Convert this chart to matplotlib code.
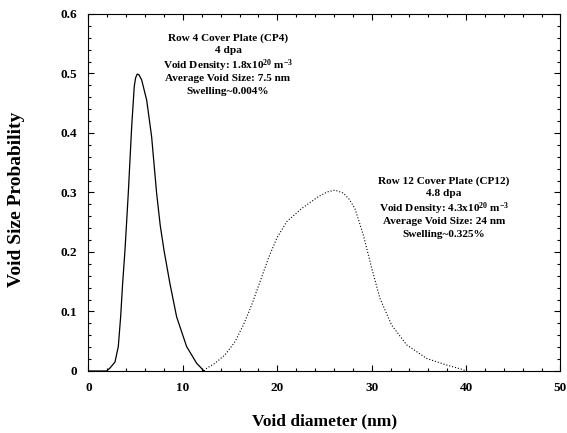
import matplotlib
matplotlib.use("Agg")
import matplotlib.pyplot as plt
from matplotlib.ticker import MultipleLocator

plt.rcParams['font.family'] = ['Liberation Serif', 'DejaVu Serif']
plt.rcParams['font.weight'] = 'bold'
plt.rcParams['mathtext.fontset'] = 'custom'
plt.rcParams['mathtext.rm'] = 'Liberation Serif:bold'
plt.rcParams['mathtext.it'] = 'Liberation Serif:bold'
plt.rcParams['mathtext.bf'] = 'Liberation Serif:bold'

# --- data ---
# Row 4 cover plate (CP4), solid curve
cp4_x = [0, 1.93, 2.28, 2.81, 3.16, 3.41, 3.62, 3.87, 4.22, 4.58, 4.85, 5.0, 5.17, 5.35,
         5.64, 6.17, 6.69, 7.22, 7.6, 8.0, 8.63, 9.34, 10.4, 11.46, 12.0, 12.24]
cp4_y = [0, 0, 0.005, 0.015, 0.041, 0.091, 0.147, 0.203, 0.299, 0.411, 0.478, 0.493, 0.499, 0.498,
         0.489, 0.455, 0.394, 0.299, 0.245, 0.203, 0.147, 0.091, 0.041, 0.013, 0.004, 0]

# Row 12 cover plate (CP12), dotted curve
cp12_x = [12.24, 12.52, 13.4, 14.46, 15.52, 16.4, 17.29, 18.17, 19.05, 19.94, 21.0,
          22.58, 24.34, 25.3, 26.1, 27.0, 27.6, 28.23, 29.11, 30.0, 30.88, 32.12, 33.7,
          35.83, 37.94, 39.53, 40.0]
cp12_y = [0, 0.0045, 0.013, 0.027, 0.049, 0.077, 0.111, 0.150, 0.189, 0.223, 0.251,
          0.273, 0.293, 0.301, 0.304, 0.299, 0.289, 0.273, 0.229, 0.173, 0.122, 0.077, 0.044,
          0.021, 0.010, 0.003, 0]

cp4_text = ["Row 4 Cover Plate (CP4)", "4 dpa",
            "Void Density: 1.8x10$^{20}$ m$^{-3}$",
            "Average Void Size: 7.5 nm", "Swelling~0.004%"]
cp12_text = ["Row 12 Cover Plate (CP12)", "4.8 dpa",
             "Void Density: 4.3x10$^{20}$ m$^{-3}$",
             "Average Void Size: 24 nm", "Swelling~0.325%"]

fig = plt.figure(figsize=(5.67, 4.33), dpi=100)
ax = fig.add_axes([0.156, 0.1432, 0.8325, 0.8245])

ax.plot(cp4_x, cp4_y, color="black", lw=0.9, solid_joinstyle="round")
ax.plot(cp12_x, cp12_y, color="black", lw=0.8, linestyle=(0, (1, 1.7)))

ax.set_xlim(0, 50)
ax.set_ylim(0, 0.6)
ax.xaxis.set_major_locator(MultipleLocator(10))
ax.xaxis.set_minor_locator(MultipleLocator(2))
ax.yaxis.set_major_locator(MultipleLocator(0.1))
ax.yaxis.set_minor_locator(MultipleLocator(0.02))
ax.tick_params(which="both", direction="in", top=True, right=True, width=0.8)
ax.tick_params(which="major", length=4.2, labelsize=9.5, pad=8)
ax.tick_params(which="minor", length=2.4)
ax.set_yticks([0, 0.1, 0.2, 0.3, 0.4, 0.5, 0.6])
ax.set_yticklabels(["0", "0.1", "0.2", "0.3", "0.4", "0.5", "0.6"])
for s in ax.spines.values():
    s.set_linewidth(0.8)

ax.set_xlabel("Void diameter (nm)", fontsize=12.5, fontweight="bold", va="top")
ax.set_ylabel("Void Size Probability", fontsize=14, fontweight="bold")
ax.xaxis.set_label_coords(0.5, -0.12)
ax.yaxis.set_label_coords(-0.135, 0.482)

# annotation blocks, line offsets in points
offsets = [0, -8.8, -20.0, -29.4, -38.6]
for x0, y0, lines in [(14.78, 0.56, cp4_text), (37.66, 0.3195, cp12_text)]:
    for off, line in zip(offsets, lines):
        ax.annotate(line, (x0, y0), xytext=(0, off), textcoords="offset points",
                    ha="center", va="center", fontsize=8.1, fontweight="bold")

fig.savefig("out.png", dpi=100)
